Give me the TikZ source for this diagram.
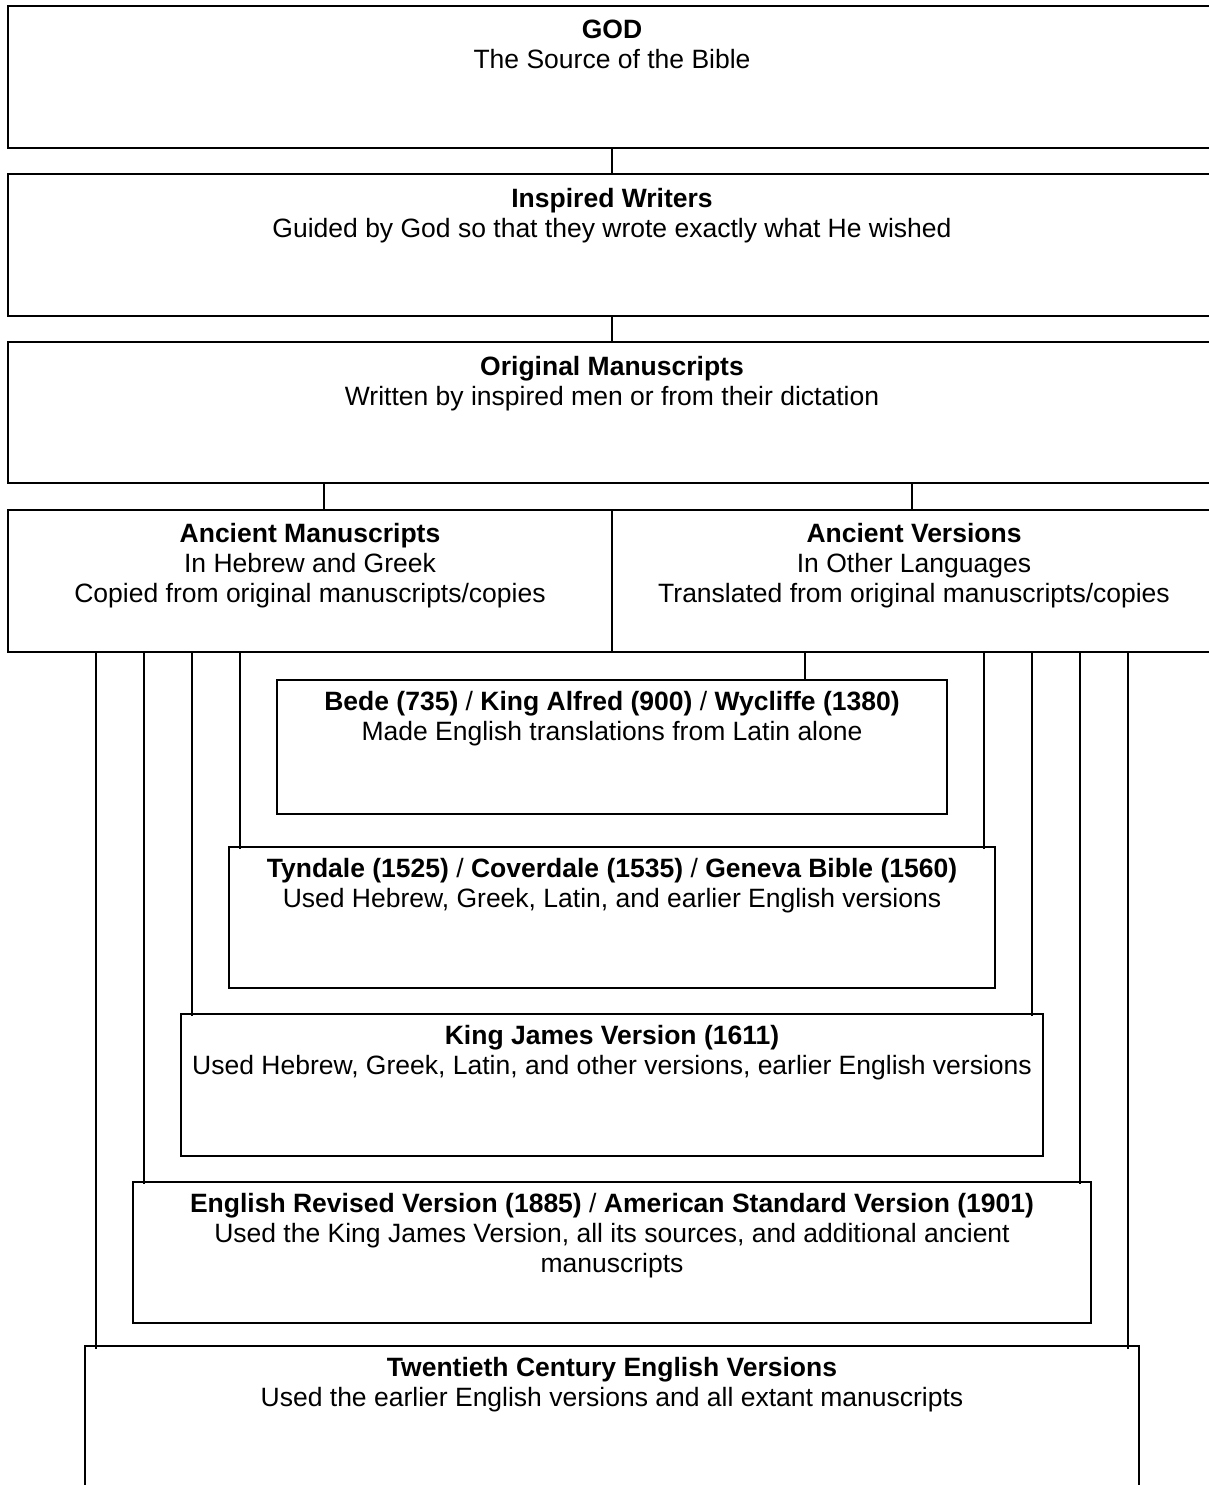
\documentclass[tikz,border=0pt]{standalone}
\usepackage{fontspec}
\setmainfont{Liberation Sans}
\usetikzlibrary{fit}
\begin{document}
\begin{tikzpicture}[x=1pt,y=-1pt,
  box/.style={draw=black, line width=1.4pt, inner sep=0pt, outer sep=0pt},
  topbox/.style={box, line width=2pt},
  txt/.style={anchor=north, align=center, inner sep=0pt, font=\fontsize{26.5}{30}\selectfont},
  conn/.style={draw=black, line width=1.3pt}]
\useasboundingbox (0,0) rectangle (1209,1485);
\clip (0,0) rectangle (1209,1485);
\fill[white] (0,0) rectangle (1209,1485);

% boxes
\node[topbox, fit={(8,6) (1216,148)}] (god) {};
\node[topbox, fit={(8,174) (1216,316)}] (insp) {};
\node[box, fit={(8,342) (1216,483)}] (orig) {};
\node[box, fit={(8,510) (612,652)}] (am) {};
\node[box, fit={(612,510) (1216,652)}] (av) {};
\node[box, fit={(277,680) (947,814)}] (bede) {};
\node[box, fit={(229,847) (995,988)}] (tyn) {};
\node[box, fit={(181,1014) (1043,1156)}] (kjv) {};
\node[box, fit={(133,1182) (1091,1323)}] (erv) {};
\node[box, fit={(85,1346) (1139,1500)}] (tcev) {};

% texts
\node[txt] (godt) at ([yshift=-14pt]god.north) {\textbf{GOD}\\The Source of the Bible};
\node[txt] (inspt) at ([yshift=-14pt]insp.north) {\textbf{Inspired Writers}\\Guided by God so that they wrote exactly what He wished};
\node[txt] (origt) at ([yshift=-14pt]orig.north) {\textbf{Original Manuscripts}\\Written by inspired men or from their dictation};
\node[txt] (amt) at ([yshift=-13pt]am.north) {\textbf{Ancient Manuscripts}\\In Hebrew and Greek\\Copied from original manuscripts/copies};
\node[txt] (avt) at ([yshift=-13pt]av.north) {\textbf{Ancient Versions}\\In Other Languages\\Translated from original manuscripts/copies};
\node[txt] (bedet) at ([yshift=-11pt]bede.north) {\textbf{Bede (735)} / \textbf{King Alfred (900)} / \textbf{Wycliffe (1380)}\\Made English translations from Latin alone};
\node[txt] (tynt) at ([yshift=-11pt]tyn.north) {\textbf{Tyndale (1525)} / \textbf{Coverdale (1535)} / \textbf{Geneva Bible (1560)}\\Used Hebrew, Greek, Latin, and earlier English versions};
\node[txt] (kjvt) at ([yshift=-11pt]kjv.north) {\textbf{King James Version (1611)}\\Used Hebrew, Greek, Latin, and other versions, earlier English versions};
\node[txt] (ervt) at ([yshift=-11pt]erv.north) {\textbf{English Revised Version (1885)} / \textbf{American Standard Version (1901)}\\Used the King James Version, all its sources, and additional ancient\\manuscripts};
\node[txt] (tcevt) at ([yshift=-11pt]tcev.north) {\textbf{Twentieth Century English Versions}\\Used the earlier English versions and all extant manuscripts};

% connector start points
\coordinate (o1) at (324,483);
\coordinate (o2) at (912,483);
\coordinate (l1) at (96,652);
\coordinate (l2) at (144,652);
\coordinate (l3) at (192,652);
\coordinate (l4) at (240,652);
\coordinate (r1) at (1128,652);
\coordinate (r2) at (1080,652);
\coordinate (r3) at (1032,652);
\coordinate (r4) at (984,652);
\coordinate (v0) at (805,652);

% connectors
\draw[conn] (god.south) -- (insp.north);
\draw[conn] (insp.south) -- (orig.north);
\draw[conn] (o1) -- (o1 |- am.north);
\draw[conn] (o2) -- (o2 |- av.north);
\draw[conn] (v0) -- (v0 |- bede.north);
\draw[conn] (l4) -- ([yshift=-2pt]l4 |- tyn.north);
\draw[conn] (r4) -- ([yshift=-2pt]r4 |- tyn.north);
\draw[conn] (l3) -- ([yshift=-2pt]l3 |- kjv.north);
\draw[conn] (r3) -- ([yshift=-2pt]r3 |- kjv.north);
\draw[conn] (l2) -- ([yshift=-2pt]l2 |- erv.north);
\draw[conn] (r2) -- ([yshift=-2pt]r2 |- erv.north);
\draw[conn] (l1) -- ([yshift=-3pt]l1 |- tcev.north);
\draw[conn] (r1) -- ([yshift=-3pt]r1 |- tcev.north);
\end{tikzpicture}
\end{document}
